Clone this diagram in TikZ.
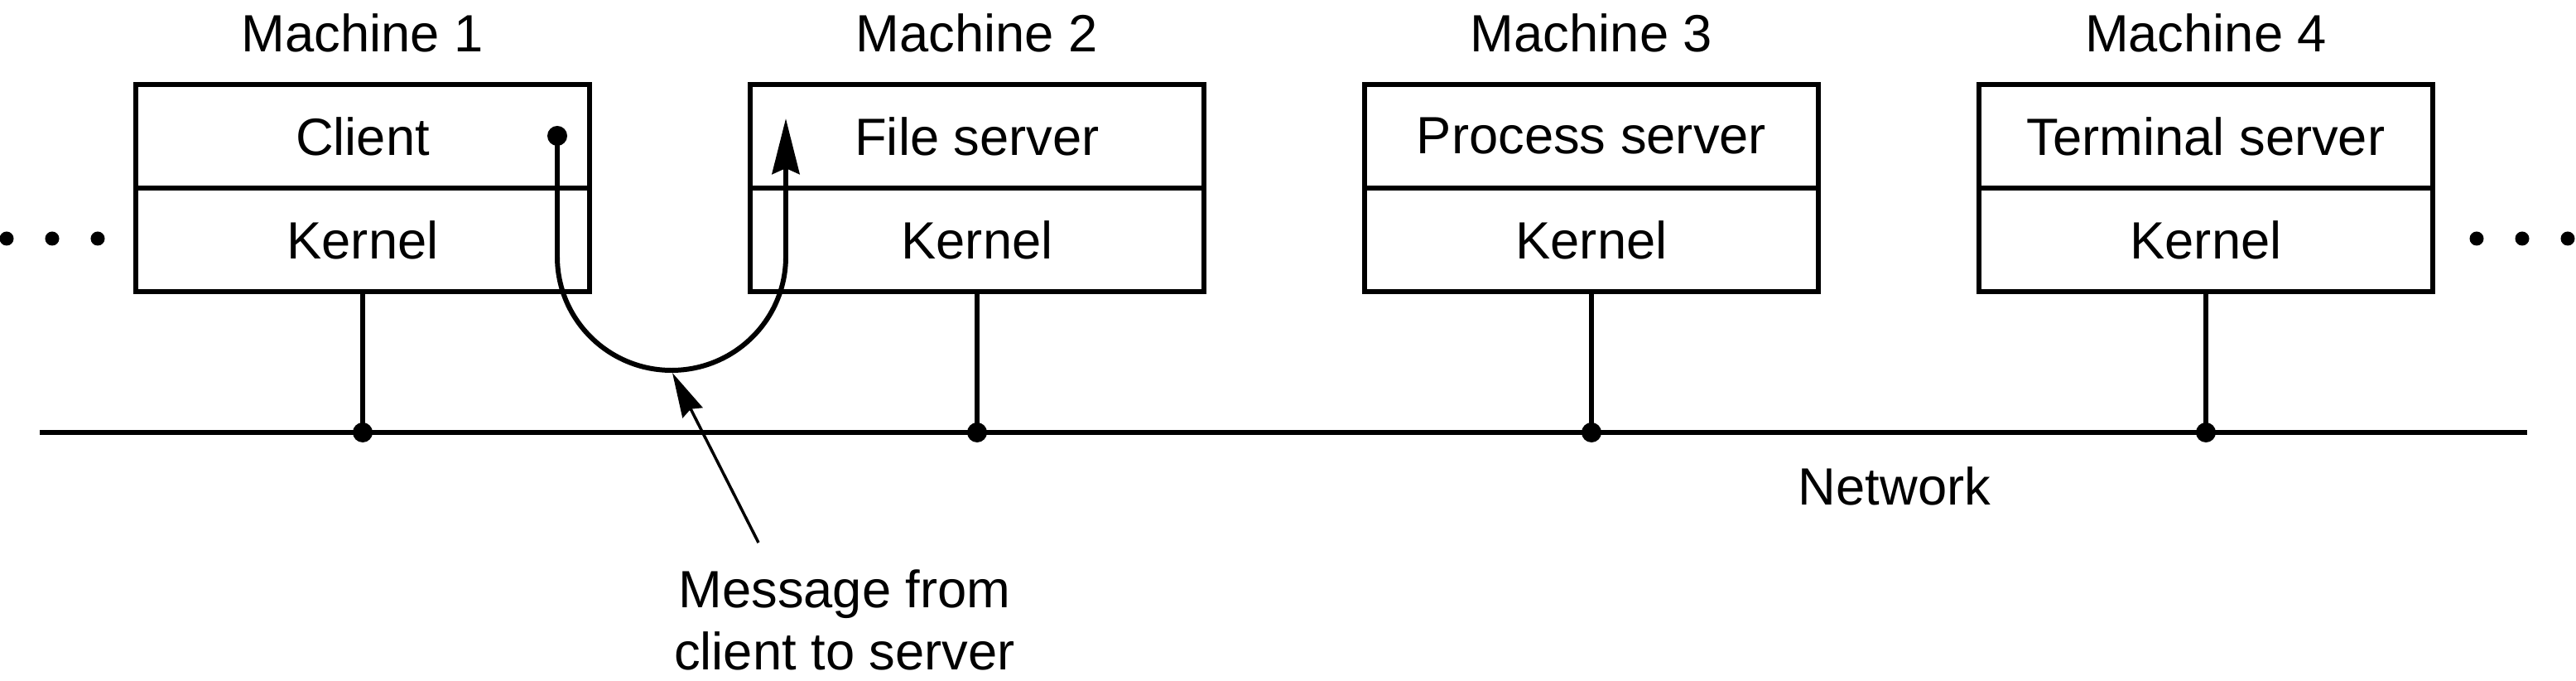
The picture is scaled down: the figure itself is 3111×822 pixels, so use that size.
\documentclass[tikz,border=0pt]{standalone}
\usepackage{fontspec}
\setmainfont{Liberation Sans}
\usetikzlibrary{positioning}
\usetikzlibrary{calc}
\usetikzlibrary{arrows.meta}

\begin{document}
\begin{tikzpicture}
    [x=0.01cm, y=-0.01cm,
    layer/.style={draw, line width=1.7pt, minimum width=5.48cm, minimum height=1.25cm, inner sep=0pt, outer sep=0pt, font=\fontsize{18}{21.3}\selectfont},
    heading/.style={inner sep=0pt, anchor=base, font=\fontsize{18}{21.3}\selectfont},
    junction/.style={circle, fill, inner sep=0pt, minimum size=0.24cm},
    etc/.style={circle, fill, inner sep=0pt, minimum size=0.17cm},
    wire/.style={line width=1.7pt}]
     \useasboundingbox (0, 0) rectangle (3111, 822);
     %\draw[step=100,gray,very thin] (0,0) grid (3111,822);
     \node[heading] (m1) at (438, 62.5)  {Machine 1};
     \node[heading] (m2) at (1180, 62.5) {Machine 2};
     \node[heading] (m3) at (1922, 62.5) {Machine 3};
     \node[heading] (m4) at (2664, 62.5) {Machine 4};
     \node[layer] (p1) at (438, 164.5)  {Client};
     \node[layer] (p2) at (1180, 164.5) {File server};
     \node[layer] (p3) at (1922, 164.5) {Process server};
     \node[layer] (p4) at (2664, 164.5) {Terminal server};
     \node[layer, below=0pt of p1] (k1) {Kernel};
     \node[layer, below=0pt of p2] (k2) {Kernel};
     \node[layer, below=0pt of p3] (k3) {Kernel};
     \node[layer, below=0pt of p4] (k4) {Kernel};
     \node[junction] (j1) at (438, 522)  {};
     \node[junction] (j2) at (1180, 522) {};
     \node[junction] (j3) at (1922, 522) {};
     \node[junction] (j4) at (2664, 522) {};
     \coordinate (west) at (48, 522);
     \coordinate (east) at (3052, 522);
     \node[heading] (net) at (2288, 610) {Network};
     \foreach \x [count=\i] in {8, 63, 118} \node[etc] (dl\i) at (\x, 288) {};
     \foreach \x [count=\i] in {2991, 3046, 3101} \node[etc] (dr\i) at (\x, 288) {};
     \draw[wire] (west) -- (east);
     \draw[wire] (k1.south) -- (j1.center);
     \draw[wire] (k2.south) -- (j2.center);
     \draw[wire] (k3.south) -- (j3.center);
     \draw[wire] (k4.south) -- (j4.center);
     % the message
     \node[junction] (src) at (673, 164) {};
     \coordinate (dst) at (949, 143);
     \coordinate (dip) at (812, 450);
     \draw[wire, -{Stealth[length=0.67cm, width=0.33cm, inset=0.07cm]}]
        (src.center) -- (673, 310) arc[start angle=180, end angle=0, x radius=138, y radius=137] -- (dst);
     \node[heading, anchor=north, align=center] (msg) at (1020, 687) {Message from\\client to server};
     \coordinate (tail) at (916, 655);
     \draw[line width=1pt, -{Stealth[length=0.54cm, width=0.27cm, inset=0.05cm]}] (tail) -- (dip);
\end{tikzpicture}
\end{document}
